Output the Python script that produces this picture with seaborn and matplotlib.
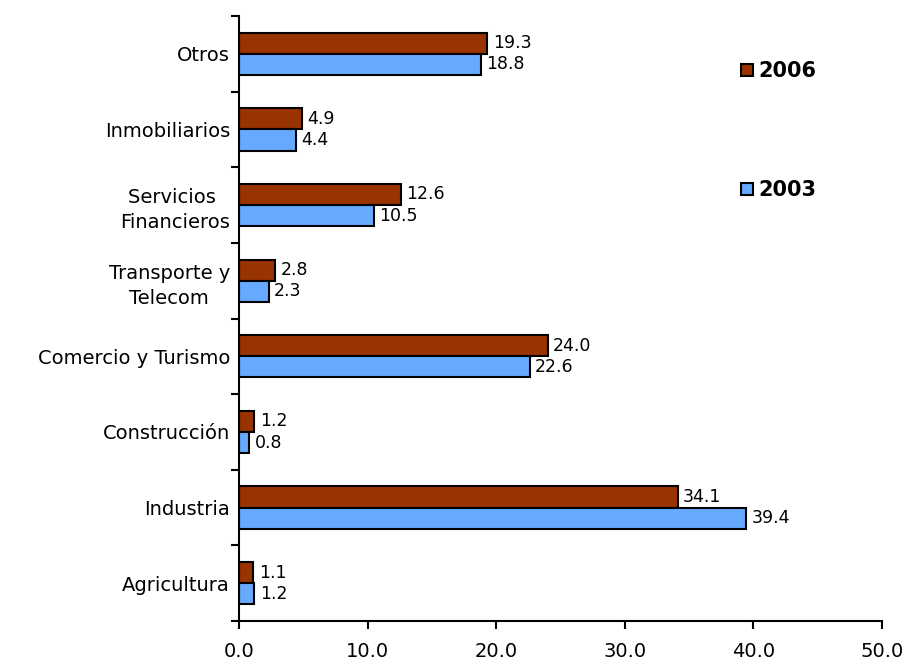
import numpy as np
import pandas as pd
import matplotlib.pyplot as plt
import seaborn as sns
from matplotlib.patches import Patch

# Sector shares (%) for two years
categories = ['Otros', 'Inmobiliarios', 'Servicios \nFinancieros', 'Transporte y\nTelecom',
              'Comercio y Turismo', 'Construcción', 'Industria', 'Agricultura']
v2006 = [19.3, 4.9, 12.6, 2.8, 24.0, 1.2, 34.1, 1.1]
v2003 = [18.8, 4.4, 10.5, 2.3, 22.6, 0.8, 39.4, 1.2]
years = ['2006', '2003']
colors = {'2006': '#993300', '2003': '#66AAFF'}

df = pd.DataFrame({
    'Sector': categories * 2,
    'Valor': v2006 + v2003,
    'Año': ['2006'] * len(categories) + ['2003'] * len(categories),
})

sns.set_style('white')
plt.rcParams['font.family'] = ['DejaVu Sans']
plt.rcParams['text.color'] = 'black'
plt.rcParams['xtick.color'] = 'black'
plt.rcParams['ytick.color'] = 'black'

fig = plt.figure(figsize=(9.06, 6.63), dpi=100)
ax = fig.add_axes([0.2638, 0.0633, 0.7097, 0.9126])

sns.barplot(data=df, y='Sector', x='Valor', hue='Año', order=categories,
            hue_order=years, palette=colors, orient='h', width=0.56,
            saturation=1, edgecolor='black', linewidth=1.5, ax=ax)

for cont in ax.containers:
    ax.bar_label(cont, fmt='%.1f', padding=4, fontsize=12.5, color='black')

ax.set_xlim(0, 50)
ax.set_ylim(len(categories) - 0.5, -0.5)
ax.set_xticks(np.arange(0, 51, 10))
ax.set_xticklabels([f'{t:.1f}' for t in np.arange(0, 51, 10)], fontsize=14)
ax.set_yticks(np.arange(-0.5, len(categories), 1), minor=True)
ax.tick_params(axis='y', which='major', left=False, pad=3, labelsize=14)
ax.tick_params(axis='y', which='minor', left=True, length=6, width=1.5, direction='out')
ax.tick_params(axis='x', which='major', bottom=True, length=6, width=1.5,
               direction='out', pad=9)
for lbl in ax.get_yticklabels():
    lbl.set_multialignment('center')
    lbl.set_linespacing(1.4)

ax.set_xlabel('')
ax.set_ylabel('')
sns.despine(ax=ax)
for s in ['left', 'bottom']:
    ax.spines[s].set_linewidth(1.5)
    ax.spines[s].set_color('black')

ax.get_legend().remove()
handles = [Patch(facecolor=colors[y], edgecolor='black', linewidth=1.5, label=y) for y in years]
leg = ax.legend(handles=handles, loc='upper left', bbox_to_anchor=(0.765, 0.942),
                frameon=False, handlelength=0.55, handleheight=0.55, handletextpad=0.25,
                labelspacing=4.75, borderpad=0, prop={'weight': 'bold', 'size': 15})

fig.savefig('out.png', dpi=100)
